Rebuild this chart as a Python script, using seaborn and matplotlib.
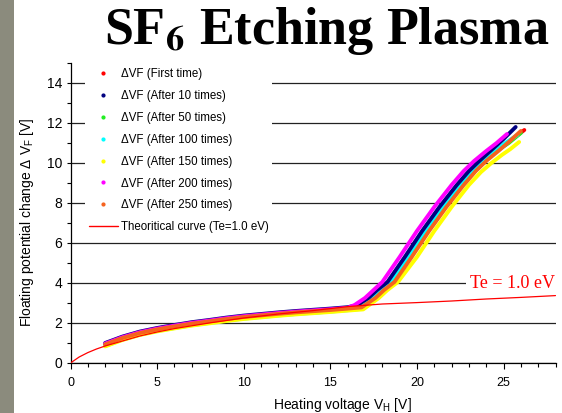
import numpy as np
import pandas as pd
import matplotlib
matplotlib.use("Agg")
import matplotlib.pyplot as plt
from matplotlib.lines import Line2D
from matplotlib.patches import Rectangle
from matplotlib.ticker import MultipleLocator
import seaborn as sns

# Data
labels = ["ΔVF (First time)", "ΔVF (After 10 times)", "ΔVF (After 50 times)",
          "ΔVF (After 100 times)", "ΔVF (After 150 times)", "ΔVF (After 200 times)",
          "ΔVF (After 250 times)"]
colors = ["#ff0000", "#000080", "#22ee22", "#00ffff", "#ffff00", "#ff00ff", "#f5621e"]

x_low = [2, 3, 4, 5, 6, 7, 8, 9, 10, 11, 12, 13, 14, 15, 16]

first_x = x_low + [16.7, 17.5, 18.0, 18.6, 19.6, 20.6, 21.6, 22.6, 23.3, 23.9, 24.6, 25.3, 26.2]
first_y = [0.93, 1.25, 1.5, 1.68, 1.83, 1.97, 2.08, 2.2, 2.3, 2.38, 2.46, 2.53, 2.59, 2.65, 2.72,
           2.78, 3.25, 3.65, 4.05, 5.3, 6.6, 7.8, 8.9, 9.6, 10.1, 10.6, 11.05, 11.65]

after10_x = x_low + [16.5, 17.2, 17.7, 18.3, 19.3, 20.3, 21.3, 22.3, 23.0, 23.6, 24.3, 25.0, 25.7]
after10_y = [1.0, 1.32, 1.57, 1.75, 1.9, 2.04, 2.15, 2.27, 2.37, 2.45, 2.53, 2.6, 2.66, 2.72, 2.79,
             2.88, 3.25, 3.65, 4.05, 5.3, 6.6, 7.8, 8.9, 9.6, 10.1, 10.65, 11.2, 11.8]

after50_x = x_low + [16.7, 17.5, 18.0, 18.6, 19.6, 20.6, 21.6, 22.6, 23.3, 23.9, 24.6, 25.3, 26.0]
after50_y = [0.9, 1.22, 1.47, 1.65, 1.8, 1.94, 2.05, 2.17, 2.27, 2.35, 2.43, 2.5, 2.56, 2.62, 2.69,
             2.72, 3.25, 3.65, 4.05, 5.3, 6.6, 7.8, 8.9, 9.6, 10.1, 10.6, 11.0, 11.5]

after100_x = x_low + [16.7, 17.4, 17.9, 18.5, 19.5, 20.5, 21.5, 22.5, 23.2, 23.8, 24.5, 25.1, 25.8]
after100_y = [0.85, 1.17, 1.42, 1.6, 1.75, 1.89, 2.0, 2.12, 2.22, 2.3, 2.38, 2.45, 2.51, 2.57, 2.64,
              2.7, 3.25, 3.65, 4.05, 5.3, 6.6, 7.8, 8.9, 9.6, 10.1, 10.6, 11.0, 11.4]

after150_x = x_low + [16.9, 17.8, 18.3, 18.9, 20.0, 21.0, 22.0, 23.0, 23.7, 24.3, 24.9, 25.4, 25.9]
after150_y = [0.83, 1.15, 1.4, 1.58, 1.73, 1.87, 1.98, 2.1, 2.2, 2.28, 2.36, 2.43, 2.49, 2.55, 2.62,
              2.68, 3.25, 3.65, 4.05, 5.3, 6.6, 7.8, 8.9, 9.55, 10.0, 10.4, 10.7, 11.05]

after200_x = x_low + [16.4, 17.0, 17.5, 18.0, 19.0, 20.0, 21.0, 22.0, 22.7, 23.3, 24.0, 24.6, 25.2]
after200_y = [0.97, 1.29, 1.54, 1.72, 1.87, 2.01, 2.12, 2.24, 2.34, 2.42, 2.5, 2.57, 2.63, 2.69, 2.76,
              2.9, 3.25, 3.65, 4.05, 5.3, 6.6, 7.8, 8.9, 9.6, 10.1, 10.6, 11.0, 11.45]

after250_x = x_low + [16.8, 17.6, 18.1, 18.7, 19.7, 20.7, 21.7, 22.7, 23.4, 24.0, 24.7, 25.3, 26.0]
after250_y = [0.93, 1.25, 1.5, 1.68, 1.83, 1.97, 2.08, 2.2, 2.3, 2.38, 2.46, 2.53, 2.59, 2.65, 2.72,
              2.78, 3.25, 3.65, 4.05, 5.3, 6.6, 7.8, 8.9, 9.6, 10.1, 10.6, 11.05, 11.6]

theory_x = [0, 0.5, 1, 1.5, 2, 3, 4, 5, 6, 8, 10, 12, 14, 16, 18, 20, 22, 24, 26, 28]
theory_y = [0, 0.3, 0.52, 0.7, 0.85, 1.1, 1.35, 1.55, 1.72, 2.0, 2.25, 2.45, 2.62, 2.82, 2.95,
            3.02, 3.1, 3.2, 3.28, 3.37]

series_x = [first_x, after10_x, after50_x, after100_x, after150_x, after200_x, after250_x]
series_y = [first_y, after10_y, after50_y, after100_y, after150_y, after200_y, after250_y]
draw_order = [0, 2, 3, 4, 1, 5, 6]

sns.set_style("ticks")
plt.rcParams["font.family"] = ["Liberation Sans", "DejaVu Sans"]
plt.rcParams["mathtext.fontset"] = "custom"
plt.rcParams["mathtext.rm"] = "Liberation Sans"
plt.rcParams["mathtext.it"] = "Liberation Sans:italic"
plt.rcParams["mathtext.bf"] = "Liberation Sans:bold"
for k in ["text.color", "axes.labelcolor", "xtick.color", "ytick.color"]:
    plt.rcParams[k] = "black"

fig = plt.figure(figsize=(5.62, 4.13), dpi=100)
fig.patch.set_facecolor("white")
fig.patches.append(Rectangle((0, 0), 14 / 562, 1, transform=fig.transFigure,
                             facecolor="#8b8b7d", edgecolor="none", zorder=0))
ax = fig.add_axes([70.5 / 562, 50 / 413, 485 / 562, 300 / 413])

for i in draw_order:
    df = pd.DataFrame({"x": series_x[i], "y": series_y[i]})
    sns.lineplot(data=df, x="x", y="y", ax=ax, color=colors[i], lw=2.8,
                 sort=False, estimator=None, solid_capstyle="round",
                 solid_joinstyle="round", zorder=3)

df_t = pd.DataFrame({"x": theory_x, "y": theory_y})
sns.lineplot(data=df_t, x="x", y="y", ax=ax, color="red", lw=0.9,
             sort=False, estimator=None, zorder=4.5)

ax.set_xlim(0, 28)
ax.set_ylim(0, 15)
ax.xaxis.set_major_locator(MultipleLocator(5))
ax.xaxis.set_minor_locator(MultipleLocator(1))
ax.yaxis.set_major_locator(MultipleLocator(2))
ax.yaxis.set_minor_locator(MultipleLocator(1))
ax.tick_params(axis="y", which="major", direction="out", length=3, width=0.8, labelsize=10, pad=3)
ax.tick_params(axis="y", which="minor", direction="out", length=3, width=0.8)
ax.tick_params(axis="x", which="major", direction="out", length=4, width=0.8, labelsize=9, pad=6)
ax.tick_params(axis="x", which="minor", direction="out", length=3, width=0.8)
ax.grid(axis="y", which="major", color="#222222", lw=0.9)
ax.set_axisbelow(True)
sns.despine(ax=ax)
for s in ["left", "bottom"]:
    ax.spines[s].set_color("black")
    ax.spines[s].set_linewidth(0.9)

ax.set_xlabel(r"Heating voltage V$_\mathrm{H}$ [V]", fontsize=10)
ax.set_ylabel(r"Floating potential change Δ V$_\mathrm{F}$ [V]", fontsize=10)
ax.xaxis.set_label_coords(0.56, -0.11)
ax.yaxis.set_label_coords(-0.072, 0.47)

ax.text(28, 4, "Te = 1.0 eV", color="red", fontsize=13, family="Liberation Serif",
        ha="right", va="center", zorder=4,
        bbox=dict(facecolor="white", edgecolor="none", pad=3))

handles = [Line2D([], [], marker="o", ms=2, ls="none", color=c) for c in colors]
handles.append(Line2D([], [], color="red", lw=1))
ax.legend(handles, labels + ["Theoritical curve (Te=1.0 eV)"], loc="upper left",
          bbox_to_anchor=(0.03, 0.995), borderaxespad=0, fontsize=8.3, frameon=True,
          facecolor="white", edgecolor="none", framealpha=1, fancybox=False,
          labelspacing=0.86, handlelength=2.6, handletextpad=0.2, borderpad=0.3)

fig.text(0.581, (413 - 44) / 413, r"SF$_\mathbf{6}$ Etching Plasma", fontsize=37.5,
         family="Liberation Serif", weight="bold", ha="center", va="baseline",
         color="black", math_fontfamily="stix")

fig.savefig("out.png", dpi=100)
